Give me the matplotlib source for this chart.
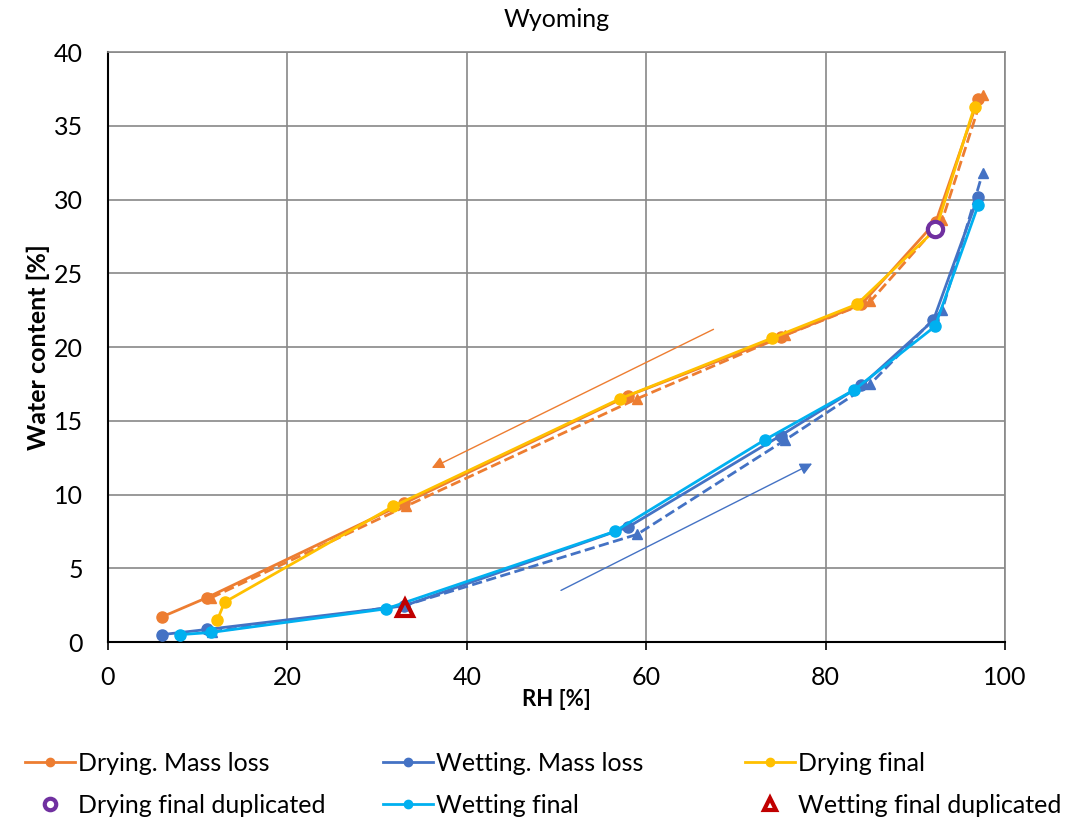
import matplotlib
matplotlib.use("Agg")
import matplotlib.pyplot as plt

plt.rcParams['font.family'] = ['Lato', 'DejaVu Sans']

# Sorption data, Wyoming sample (RH %, water content %)
dry_ml_rh = [6, 11, 33, 58, 75, 84, 92.3, 97]
dry_ml_wc = [1.7, 3.0, 9.4, 16.7, 20.7, 22.9, 28.5, 36.8]

dry_ml2_rh = [11.5, 33.2, 59, 75.5, 85, 93, 97.5]
dry_ml2_wc = [3.0, 9.2, 16.5, 20.8, 23.1, 28.6, 37.1]

wet_ml_rh = [6, 11, 33, 58, 75, 84, 92, 97]
wet_ml_wc = [0.5, 0.85, 2.45, 7.8, 14.0, 17.4, 21.8, 30.2]

wet_ml2_rh = [11.6, 33.2, 59, 75.5, 85, 93, 97.5]
wet_ml2_wc = [0.7, 2.5, 7.3, 13.7, 17.5, 22.5, 31.8]

dry_fin_rh = [12.2, 13.0, 31.8, 57.1, 74, 83.5, 92.3, 96.6]
dry_fin_wc = [1.5, 2.7, 9.2, 16.5, 20.6, 22.9, 28.0, 36.3]

wet_fin_rh = [8, 11.5, 31, 56.5, 73.2, 83.2, 92.2, 97]
wet_fin_wc = [0.5, 0.65, 2.25, 7.5, 13.7, 17.1, 21.4, 29.6]

dry_dup_rh, dry_dup_wc = [92.2], [28.0]
wet_dup_rh, wet_dup_wc = [33.1], [2.3]

# direction arrows (start, end)
dry_arrow = [(67.5, 21.2), (36.1, 11.8)]
wet_arrow = [(50.5, 3.5), (78.5, 12.1)]

ORANGE = '#ED7D31'
BLUE = '#4472C4'
YELLOW = '#FFC000'
LBLUE = '#00B0F0'
PURPLE = '#7030A0'
RED = '#C00000'

fig = plt.figure(figsize=(10.71, 8.23), dpi=100)
ax = fig.add_axes([0.1008, 0.2199, 0.8376, 0.7169])

ax.plot(dry_ml2_rh, dry_ml2_wc, '--', color=ORANGE, lw=2, marker='^', ms=7, zorder=3)
ax.plot(wet_ml2_rh, wet_ml2_wc, '--', color=BLUE, lw=2, marker='^', ms=7, zorder=3)

h1, = ax.plot(dry_ml_rh, dry_ml_wc, '-', color=ORANGE, lw=2, marker='o', ms=8, zorder=4,
              label='Drying. Mass loss')
h2, = ax.plot(wet_ml_rh, wet_ml_wc, '-', color=BLUE, lw=2, marker='o', ms=8, zorder=4,
              label='Wetting. Mass loss')
h3, = ax.plot(dry_fin_rh, dry_fin_wc, '-', color=YELLOW, lw=2, marker='o', ms=8, zorder=5,
              label='Drying final')
h5, = ax.plot(wet_fin_rh, wet_fin_wc, '-', color=LBLUE, lw=2, marker='o', ms=8, zorder=5,
              label='Wetting final')
h4, = ax.plot(dry_dup_rh, dry_dup_wc, 'o', mfc='white', mec=PURPLE, mew=3, ms=11, zorder=6,
              label='Drying final duplicated')
h6, = ax.plot(wet_dup_rh, wet_dup_wc, '^', mfc='none', mec=RED, mew=3, ms=11, zorder=6,
              label='Wetting final duplicated')

for (p0, p1), c in [(dry_arrow, ORANGE), (wet_arrow, BLUE)]:
    ax.annotate('', xy=p1, xytext=p0,
                arrowprops=dict(arrowstyle='-|>', color=c, lw=1, mutation_scale=18,
                                shrinkA=0, shrinkB=0))

ax.set_xlim(0, 100)
ax.set_ylim(0, 40)
ax.set_xticks(range(0, 101, 20))
ax.set_yticks(range(0, 41, 5))
ax.grid(True, color='#888888', lw=1.2)
ax.set_axisbelow(True)
for s in ['top', 'right']:
    ax.spines[s].set_color('#888888')
    ax.spines[s].set_linewidth(1.2)
for s in ['left', 'bottom']:
    ax.spines[s].set_color('black')
    ax.spines[s].set_linewidth(1.5)
ax.tick_params(axis='x', labelsize=18, length=6, width=1.2, direction='out', pad=11)
ax.tick_params(axis='y', labelsize=18, length=0, pad=18)

ax.set_title('Wyoming', fontsize=18, pad=18)
ax.set_xlabel('RH [%]', fontsize=16, fontweight='bold', labelpad=0)
ax.set_ylabel('Water content [%]', fontsize=18, fontweight='bold', labelpad=3)

# three legend columns of equal width, two rows each
columns = [(h1, h4), (h2, h5), (h3, h6)]
col_x = [25, 383, 745]
for x, hs in zip(col_x, columns):
    fig.legend(hs, [h.get_label() for h in hs],
               loc='upper left', bbox_to_anchor=(x / 1071, 1 - 752 / 823),
               frameon=False, fontsize=18, handlelength=2.0, handletextpad=0.1,
               labelspacing=0.75, markerscale=0.75, borderpad=0, borderaxespad=0)

fig.savefig('out.png', dpi=100)
